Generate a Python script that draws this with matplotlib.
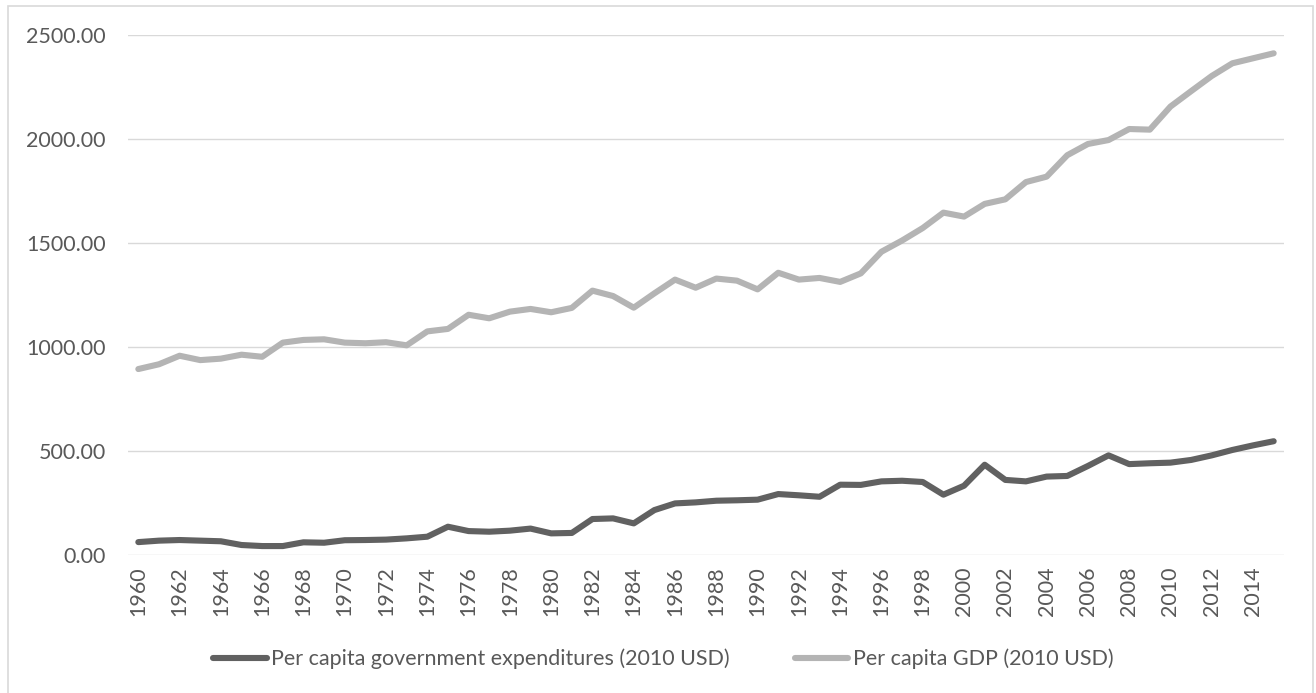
import numpy as np
import matplotlib
matplotlib.use("Agg")
import matplotlib.pyplot as plt
from matplotlib.patches import Rectangle

# per capita series, 2010 USD
years = list(range(1960, 2016))
gov_exp = [62, 69, 72, 69, 66, 48, 43, 43, 61, 59,
           71, 72, 74, 80, 88, 136, 115, 112, 117, 127,
           104, 106, 173, 176, 152, 216, 248, 253, 261, 263,
           266, 293, 287, 280, 338, 337, 354, 357, 351, 290,
           333, 434, 361, 354, 377, 380, 428, 479, 437, 441,
           444, 457, 479, 505, 527, 547]
gdp = [894, 917, 958, 937, 944, 963, 953, 1021, 1034, 1037,
       1021, 1018, 1023, 1008, 1075, 1087, 1155, 1138, 1170, 1183,
       1167, 1188, 1271, 1245, 1189, 1258, 1324, 1285, 1329, 1319,
       1277, 1357, 1324, 1332, 1313, 1354, 1458, 1512, 1572, 1646,
       1627, 1688, 1710, 1793, 1819, 1922, 1976, 1995, 2048, 2045,
       2156, 2230, 2303, 2364, 2388, 2412]
yticks = [0, 500, 1000, 1500, 2000, 2500]
labels = ["Per capita government expenditures (2010 USD)", "Per capita GDP (2010 USD)"]

plt.rcParams['font.family'] = ['Lato', 'DejaVu Sans']
txt = '#595959'
fs = 15.5

W, H = 1316, 693
fig = plt.figure(figsize=(W / 100, H / 100), dpi=100)
# outer chart frame, open at the bottom edge
fig.patches.append(Rectangle((8 / W, -0.1), 1305 / W, 1.1 - 6 / H, transform=fig.transFigure,
                             fill=False, edgecolor='#d9d9d9', lw=1.2))

ax = fig.add_axes([128 / W, 138 / H, 1156 / W, 520 / H])
x = np.arange(len(years))
l1, = ax.plot(x, gov_exp, color='#616161', lw=4.4, solid_capstyle='round', solid_joinstyle='round', zorder=3)
l2, = ax.plot(x, gdp, color='#b4b4b4', lw=4.4, solid_capstyle='round', solid_joinstyle='round', zorder=3)

ax.set_xlim(-0.5, len(years) - 0.5)
ax.set_ylim(0, 2500)
ax.set_yticks(yticks)
ax.set_yticklabels(["%.2f" % v for v in yticks])
ax.set_xticks(x[::2])
ax.set_xticklabels([str(y) for y in years[::2]], rotation=90)
ax.grid(axis='y', color='#d9d9d9', lw=1.0)
ax.set_axisbelow(True)
for s in ax.spines.values():
    s.set_visible(False)
ax.tick_params(axis='both', length=0, labelsize=fs, labelcolor=txt)
ax.tick_params(axis='y', pad=16)
ax.tick_params(axis='x', pad=8)

fig.legend([l1, l2], labels, loc='center', bbox_to_anchor=(0.504, 0.049), ncol=2,
           frameon=False, fontsize=fs, labelcolor=txt, handlelength=2.5,
           handletextpad=0.2, columnspacing=3.0)

fig.savefig("out.png", dpi=100)
